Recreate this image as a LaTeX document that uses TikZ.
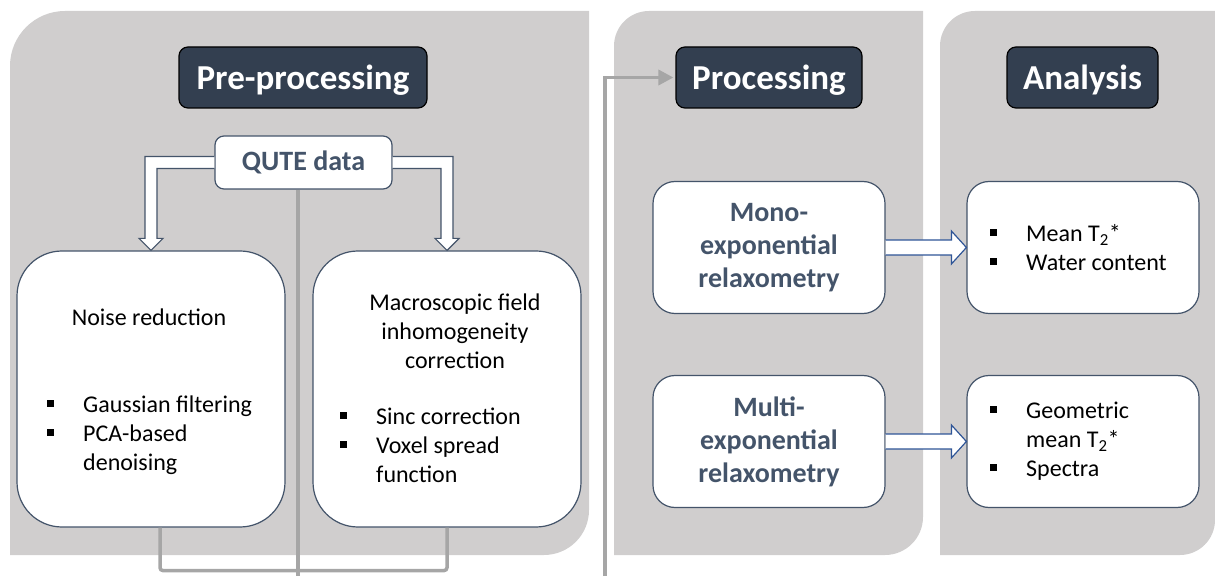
\documentclass[tikz,border=0pt]{standalone}
\usepackage{fontspec}
\setmainfont{Carlito}
\usepackage{xcolor}
\definecolor{qpanel}{HTML}{D0CECE}
\definecolor{qtitle}{HTML}{333F50}
\definecolor{qslate}{HTML}{44546A}
\definecolor{qblue}{HTML}{2F5597}
\definecolor{qlink}{HTML}{A6A6A6}
\usepackage{tikz}
\usetikzlibrary{arrows.meta,positioning,calc}
\newcommand{\sqb}{\makebox[36pt][l]{\raisebox{5.5pt}{\rule{7pt}{7pt}}}}
\newcommand{\sqind}{\hspace*{36pt}}

\begin{document}
\begin{tikzpicture}[
  x=1pt,y=1pt,
  font=\fontsize{24}{29}\selectfont,
  panel/.style={fill=qpanel},
  head/.style={rectangle,rounded corners=9pt,draw=black,line width=1.2pt,fill=qtitle,text=white,font=\fontsize{35}{42}\selectfont\bfseries,minimum height=61pt,inner sep=0pt,text depth=0pt},
  box/.style={rectangle,draw=qslate,line width=1.2pt,fill=white,inner sep=0pt},
  stage/.style={box,rounded corners=45pt,minimum width=268pt,minimum height=276pt},
  method/.style={box,rounded corners=22pt,minimum width=232pt,minimum height=132pt,text=qslate,align=center,font=\fontsize{28}{33}\selectfont\bfseries},
  result/.style={box,rounded corners=22pt,minimum width=232pt,minimum height=132pt},
  txt/.style={align=left,inner sep=0pt},
  hollow/.style={draw=qslate,fill=white,line width=1.2pt},
  hollowb/.style={draw=qblue,fill=white,line width=1.2pt},
  link/.style={draw=qlink,line width=3.5pt}
]
\useasboundingbox (0,0) rectangle (1215,576);
\fill[panel] (10,21) -- (10,510) arc[start angle=180,end angle=90,radius=55] -- (589,565) -- (589,66) arc[start angle=0,end angle=-90,radius=45] -- cycle;
\fill[panel] (614,21) -- (614,530) arc[start angle=180,end angle=90,radius=35] -- (923,565) -- (923,59) arc[start angle=0,end angle=-90,radius=38] -- cycle;
\fill[panel] (940,21) -- (940,530) arc[start angle=180,end angle=90,radius=35] -- (1215,565) -- (1215,56) arc[start angle=0,end angle=-90,radius=35] -- cycle;

\node[head,minimum width=248pt] (pre) at (303,498.5) {Pre-processing};
\node[head,minimum width=186pt] (proc) at (769,498.5) {Processing};
\node[head,minimum width=151pt] (ana) at (1082.5,498.5) {Analysis};

\node[box,rounded corners=9pt,minimum width=177pt,minimum height=53pt,text=qslate,font=\fontsize{28}{33}\selectfont\bfseries] (qute) at (303.5,413.5) {QUTE data};

\node[stage] (noise) at (151,187) {};
\node[stage] (macro) at (447,187) {};
\node[txt] (noisetitle) at (149,259) {Noise reduction};
\node[txt,anchor=north west] (noiselist) at (47,180) {\sqb Gaussian filtering\\\sqb PCA-based\\\sqind denoising};
\node[txt,align=center] (macrotitle) at (455,245) {Macroscopic field\\inhomogeneity\\correction};
\node[txt,anchor=north west] (macrolist) at (340,168) {\sqb Sinc correction\\\sqb Voxel spread\\\sqind function};

\node[method] (mono) at (769,328.5) {Mono-\\exponential\\relaxometry};
\node[method] (multi) at (769,134.5) {Multi-\\exponential\\relaxometry};
\node[result] (res1) at (1083,328.5) {};
\node[result] (res2) at (1083,134.5) {};
\node[txt,anchor=west] (res1list) at (990,328.5) {\sqb Mean T\textsubscript{2}*\\\sqb Water content};
\node[txt,anchor=west] (res2list) at (990,134.5) {\sqb Geometric\\\sqind mean T\textsubscript{2}*\\\sqb Spectra};

\filldraw[hollow] let \p1=(qute.west), \p2=(noise.north) in
  (\x1,\y1+6pt) -- (\x2-6pt,\y1+6pt) -- (\x2-6pt,\y2+12pt) -- (\x2-12pt,\y2+12pt) -- (\x2,\y2)
  -- (\x2+12pt,\y2+12pt) -- (\x2+6pt,\y2+12pt) -- (\x2+6pt,\y1-6pt) -- (\x1,\y1-6pt);
\filldraw[hollow] let \p1=(qute.east), \p2=(macro.north) in
  (\x1,\y1+6pt) -- (\x2+6pt,\y1+6pt) -- (\x2+6pt,\y2+12pt) -- (\x2+12pt,\y2+12pt) -- (\x2,\y2)
  -- (\x2-12pt,\y2+12pt) -- (\x2-6pt,\y2+12pt) -- (\x2-6pt,\y1-6pt) -- (\x1,\y1-6pt);
\filldraw[hollowb] let \p1=(mono.east), \p2=(res1.west) in
  (\x1,\y1+7.5pt) -- (\x2-15pt,\y1+7.5pt) -- (\x2-15pt,\y1+16.5pt) -- (\x2,\y1)
  -- (\x2-15pt,\y1-16.5pt) -- (\x2-15pt,\y1-7.5pt) -- (\x1,\y1-7.5pt);
\filldraw[hollowb] let \p1=(multi.east), \p2=(res2.west) in
  (\x1,\y1+7.5pt) -- (\x2-15pt,\y1+7.5pt) -- (\x2-15pt,\y1+16.5pt) -- (\x2,\y1)
  -- (\x2-15pt,\y1-16.5pt) -- (\x2-15pt,\y1-7.5pt) -- (\x1,\y1-7.5pt);

\coordinate (qbot) at (298,0);
\coordinate (pbot) at (605,0);
\draw[link,rounded corners=3pt] ($(noise.south)+(9,0)$) -- ++(0,-43) -| (macro.south);
\draw[link] (qute.south -| qbot) -- (qbot);
\draw[link,-{Triangle[length=15pt,width=15pt]},shorten >=2pt] (pbot) |- (proc.west);
\end{tikzpicture}
\end{document}
